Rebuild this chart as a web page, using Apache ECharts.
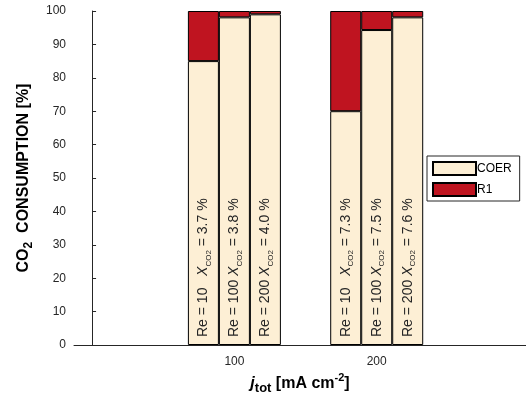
<!DOCTYPE html>
<html>
<head>
<meta charset="utf-8">
<script src="https://cdn.jsdelivr.net/npm/echarts@6/dist/echarts.min.js"></script>
<style>
  html, body { margin: 0; padding: 0; background: #fff; }
  #chart { width: 526px; height: 405px; }
</style>
</head>
<body>
<div id="chart"></div>
<script>
// Total current density groups [mA cm^-2]
const jtot = [100, 200];

// Share of CO2 consumed by each reaction [%], one array per Reynolds number
const coerRe10 = [85, 70];
const coerRe100 = [98.1, 94.3];
const coerRe200 = [99, 98.1];
const r1Re10 = [15, 30];
const r1Re100 = [1.9, 5.7];
const r1Re200 = [1, 1.9];

// CO2 conversion [%] per group, one array per Reynolds number
const xRe10 = ['3.7', '7.3'];
const xRe100 = ['3.8', '7.5'];
const xRe200 = ['4.0', '7.6'];

const reLabels = ['Re = 10   ', 'Re = 100 ', 'Re = 200 '];
const yTicks = [0, 10, 20, 30, 40, 50, 60, 70, 80, 90, 100];

const FONT = '"Liberation Sans", Arial, Helvetica, sans-serif';
const COER_COLOR = '#FDEFD5';
const R1_COLOR = '#BF1420';

const chart = echarts.init(document.getElementById('chart'), null, { renderer: 'canvas' });

function labelFor(reText, xArr) {
  return {
    show: true,
    position: 'insideBottom',
    distance: 8,
    rotate: 90,
    align: 'left',
    verticalAlign: 'middle',
    formatter: function (p) {
      return '{n|' + reText + '}{i|X}{s|CO2}{n| = ' + xArr[p.dataIndex] + ' %}';
    },
    rich: {
      n: { fontFamily: FONT, fontSize: 14, color: '#262626', lineHeight: 18, verticalAlign: 'middle' },
      i: { fontFamily: FONT, fontSize: 14, fontStyle: 'italic', color: '#262626', lineHeight: 18, verticalAlign: 'middle' },
      s: { fontFamily: FONT, fontSize: 8, color: '#262626', lineHeight: 18, verticalAlign: 'bottom' }
    }
  };
}

// Rows are [share, jtot]: the share comes first so that it is the stacked dimension
function rows(vals) {
  return jtot.map((j, i) => [vals[i], j]);
}

const stacks = [
  { coer: coerRe10, r1: r1Re10, x: xRe10, re: reLabels[0], id: 're10' },
  { coer: coerRe100, r1: r1Re100, x: xRe100, re: reLabels[1], id: 're100' },
  { coer: coerRe200, r1: r1Re200, x: xRe200, re: reLabels[2], id: 're200' }
];

const series = [];
stacks.forEach((s) => {
  series.push({
    name: 'COER',
    type: 'bar',
    stack: s.id,
    barWidth: 31,
    barGap: '0%',
    encode: { x: 1, y: 0 },
    data: rows(s.coer),
    itemStyle: { color: COER_COLOR, borderColor: '#000', borderWidth: 1 },
    label: labelFor(s.re, s.x),
    emphasis: { disabled: true },
    z: 2
  });
  series.push({
    name: 'R1',
    type: 'bar',
    stack: s.id,
    barWidth: 31,
    barGap: '0%',
    encode: { x: 1, y: 0 },
    data: rows(s.r1),
    itemStyle: { color: R1_COLOR, borderColor: '#000', borderWidth: 1 },
    emphasis: { disabled: true },
    z: 2
  });
});

chart.setOption({
  animation: false,
  backgroundColor: '#fff',
  grid: { left: 74, right: 0, top: 11, bottom: 60, containLabel: false },
  legend: {
    data: ['COER', 'R1'],
    orient: 'vertical',
    left: 427,
    top: 156,
    itemWidth: 43,
    itemHeight: 13,
    itemGap: 6,
    padding: [5, 8, 4, 5],
    backgroundColor: '#fff',
    borderColor: '#262626',
    borderWidth: 1,
    borderRadius: 0,
    icon: 'rect',
    textStyle: { fontFamily: FONT, fontSize: 12, color: '#000', padding: [0, 0, 0, -4] },
    z: 10
  },
  xAxis: {
    type: 'value',
    min: -12.7,
    max: 304.9,
    name: '{j|j}{sub|tot}{b| [mA cm}{sup|-2}{b|]}',
    nameLocation: 'middle',
    nameGap: 23,
    nameTextStyle: {
      rich: {
        j: { fontFamily: FONT, fontSize: 16, fontStyle: 'italic', fontWeight: 'bold', color: '#000', lineHeight: 22, verticalAlign: 'middle' },
        sub: { fontFamily: FONT, fontSize: 13, fontWeight: 'bold', color: '#000', lineHeight: 22, verticalAlign: 'bottom' },
        b: { fontFamily: FONT, fontSize: 16, fontWeight: 'bold', color: '#000', lineHeight: 22, verticalAlign: 'middle' },
        sup: { fontFamily: FONT, fontSize: 11, fontWeight: 'bold', color: '#000', lineHeight: 22, verticalAlign: 'top' }
      }
    },
    axisLine: { show: true, lineStyle: { color: '#262626', width: 1 } },
    axisTick: { show: false },
    splitLine: { show: false },
    axisLabel: {
      customValues: jtot,
      margin: 11,
      fontFamily: FONT,
      fontSize: 12,
      color: '#262626'
    }
  },
  yAxis: {
    type: 'value',
    min: 0,
    max: 100,
    interval: 10,
    name: '{b|CO}{sub|2}{b|  CONSUMPTION [%]}',
    nameLocation: 'middle',
    nameGap: 33,
    nameRotate: 90,
    nameTextStyle: {
      rich: {
        b: { fontFamily: FONT, fontSize: 16, fontWeight: 'bold', color: '#000', lineHeight: 22, verticalAlign: 'middle' },
        sub: { fontFamily: FONT, fontSize: 12, fontWeight: 'bold', color: '#000', lineHeight: 22, verticalAlign: 'bottom' }
      }
    },
    axisLine: { show: true, lineStyle: { color: '#262626', width: 1 } },
    axisTick: { show: true, inside: true, length: 4, lineStyle: { color: '#262626' } },
    splitLine: { show: false },
    axisLabel: {
      customValues: yTicks,
      margin: 8,
      fontFamily: FONT,
      fontSize: 12,
      color: '#262626'
    }
  },
  series: series
});
</script>
</body>
</html>
